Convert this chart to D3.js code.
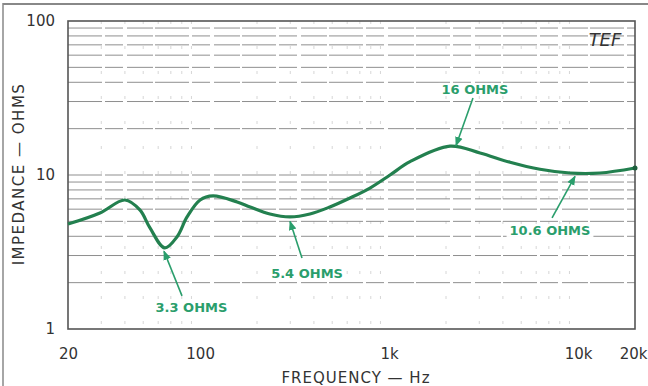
<!DOCTYPE html>
<html><head><meta charset="utf-8">
<script src="https://cdn.jsdelivr.net/npm/d3@7"></script>
<style>
body{margin:0;background:#fff;}
svg{display:block;}
text{font-family:"DejaVu Sans",sans-serif;}
</style></head>
<body>
<svg id="c" width="648" height="386"></svg>
<script>
// Data
const freqs = [20, 29.5, 40, 48, 54.3, 65, 75.4, 85.3, 100, 117, 157, 184, 234, 299, 381, 486, 621, 792, 1011, 1290, 2100, 3027, 4365, 6285, 9060, 13050, 20000];
const ohms  = [4.8, 5.67, 6.88, 5.93, 4.53, 3.36, 3.96, 5.34, 6.88, 7.31, 6.68, 6.2, 5.58, 5.34, 5.58, 6.2, 7.09, 8.23, 10.0, 12.2, 15.4, 13.9, 12.1, 10.9, 10.3, 10.3, 11.1];
const xTicks = [20, 100, 1000, 10000, 20000];
const xTickLabels = ["20", "100", "1k", "10k", "20k"];
const yTicks = [1, 10, 100];
const yTickLabels = ["1", "10", "100"];
const gridY = [2,3,4,5,6,7,8,9,10,20,30,40,50,60,70,80,90];
const gridX = [30,40,50,60,70,80,90,200,300,400,500,600,700,800,900,2000,3000,4000,5000,6000,7000,8000,9000];
// annotations
const annoLabels = ["3.3 OHMS", "5.4 OHMS", "16 OHMS", "10.6 OHMS"];
const annoTextF  = [90, 368, 2846, 7100];
const annoTextV  = [1.29, 2.14, 33.6, 4.08];
const annoFromF  = [80.2, 346, 2778, 7280];
const annoFromV  = [1.64, 2.89, 31.6, 5.26];
const annoTipF   = [64.4, 299, 2259, 9630];
const annoTipV   = [3.2, 5.0, 15.5, 9.8];

const svg = d3.select("#c");
const L = 68, R = 635, T = 21, B = 329;
const x = d3.scaleLog().domain([20, 20000]).range([L, R]);
const y = d3.scaleLog().domain([1, 100]).range([B, T]);

// outer frame lines
svg.append("line").attr("x1",3).attr("x2",3).attr("y1",3).attr("y2",386).attr("stroke","#888").attr("stroke-width",1.5);
svg.append("line").attr("x1",3).attr("x2",648).attr("y1",4).attr("y2",4).attr("stroke","#888").attr("stroke-width",2);

// gridlines
svg.append("g").selectAll("line").data(gridX).join("line")
  .attr("x1", d=>x(d)).attr("x2", d=>x(d)).attr("y1", T).attr("y2", B)
  .attr("stroke","#ccc").attr("stroke-width",0.8).attr("stroke-dasharray","3,22");
svg.append("g").selectAll("line").data(gridY).join("line")
  .attr("x1", L).attr("x2", R).attr("y1", d=>y(d)).attr("y2", d=>y(d))
  .attr("stroke","#8f8f8f").attr("stroke-width",1).attr("stroke-dasharray","34,3,18,4,26,2");

// plot frame
svg.append("rect").attr("x",L).attr("y",T).attr("width",R-L).attr("height",B-T)
  .attr("fill","none").attr("stroke","#555").attr("stroke-width",1.6);

// axes
const xa = svg.append("g").attr("transform",`translate(0,${B+16})`)
  .call(d3.axisBottom(x).tickValues(xTicks).tickSize(0).tickFormat((d,i)=>xTickLabels[i]));
xa.select(".domain").remove();
xa.selectAll("text").attr("font-size",15).attr("fill","#333").attr("font-family","DejaVu Sans");
xa.selectAll("text").filter(d=>d===20000).attr("text-anchor","end").attr("dx",12);
const ya = svg.append("g").attr("transform",`translate(${L-10},0)`)
  .call(d3.axisLeft(y).tickValues(yTicks).tickSize(0).tickFormat((d,i)=>yTickLabels[i]));
ya.select(".domain").remove();
ya.selectAll("text").attr("font-size",15).attr("fill","#333").attr("font-family","DejaVu Sans");

svg.append("text").attr("x",356).attr("y",383).attr("text-anchor","middle")
  .attr("font-size",15).attr("letter-spacing",1).attr("fill","#333").text("FREQUENCY — Hz");
svg.append("text").attr("transform","translate(24,174) rotate(-90)").attr("text-anchor","middle")
  .attr("font-size",15).attr("letter-spacing",1.5).attr("fill","#333").text("IMPEDANCE — OHMS");

svg.append("text").attr("x",605).attr("y",46).attr("text-anchor","middle")
  .attr("font-size",18).attr("font-style","italic").attr("fill","#333").text("TEF");

// curve
const line = d3.line().x((d,i)=>x(freqs[i])).y((d,i)=>y(ohms[i])).curve(d3.curveCatmullRom.alpha(0.5));
svg.append("path").datum(ohms).attr("d", line)
  .attr("fill","none").attr("stroke","#23804f").attr("stroke-width",3.2);
svg.append("circle").attr("cx",x(freqs[freqs.length-1])).attr("cy",y(ohms[ohms.length-1])).attr("r",2.5).attr("fill","#1d5e3c");

// annotations
const green = "#2a9e6c";
svg.append("defs").append("marker").attr("id","ah").attr("viewBox","0 0 10 10")
  .attr("refX",9).attr("refY",5).attr("markerWidth",6).attr("markerHeight",6).attr("orient","auto")
  .append("path").attr("d","M0,1 L10,5 L0,9 z").attr("fill",green);
annoLabels.forEach((lab,i)=>{
  const g = svg.append("g");
  const tx = x(annoTextF[i]), ty = y(annoTextV[i]);
  const bgRect = g.append("rect").attr("fill","#fff");
  const t = g.append("text").attr("x",tx).attr("y",ty).attr("text-anchor","middle")
    .attr("font-size",13).attr("font-weight","bold").attr("fill",green).text(lab);
  const bb = t.node().getBBox();
  bgRect.attr("x",bb.x-3).attr("y",bb.y+1).attr("width",bb.width+6).attr("height",bb.height-2);
  g.append("line").attr("x1",x(annoFromF[i])).attr("y1",y(annoFromV[i]))
    .attr("x2",x(annoTipF[i])).attr("y2",y(annoTipV[i]))
    .attr("stroke",green).attr("stroke-width",1.6).attr("marker-end","url(#ah)");
});
</script>
</body></html>
